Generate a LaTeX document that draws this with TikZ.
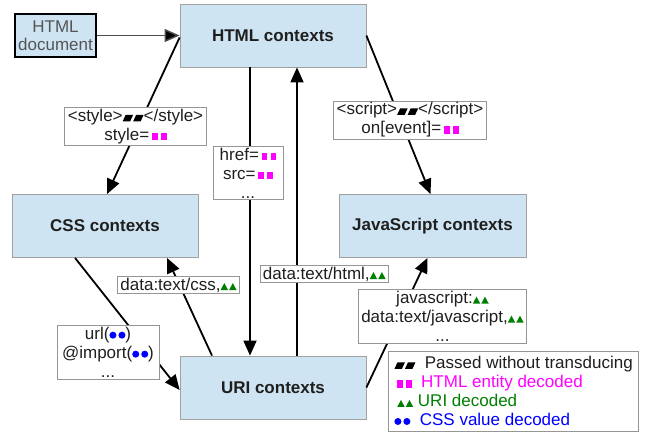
\documentclass[tikz,border=0pt]{standalone}
\usepackage{fontspec}
\setmainfont{Liberation Sans}
\usetikzlibrary{arrows.meta,calc}
\definecolor{ctxfill}{RGB}{207,228,242}
\definecolor{ctxborder}{RGB}{160,160,160}
\definecolor{lblborder}{RGB}{150,150,150}
\definecolor{ugreen}{RGB}{0,128,0}
\definecolor{txtgray}{RGB}{85,85,85}
\definecolor{cssblue}{RGB}{0,0,255}
\definecolor{entmag}{RGB}{255,0,255}
\newcommand\symP{\tikz[baseline=0pt]{\fill[black] (0pt,0pt) -- (7.5pt,0pt) -- (10.5pt,6.5pt) -- (3pt,6.5pt) -- cycle; \fill[black] (10.5pt,0pt) -- (18pt,0pt) -- (21pt,6.5pt) -- (13.5pt,6.5pt) -- cycle;}}
\newcommand\symH{\tikz[baseline=0pt]{\fill[entmag] (0pt,0pt) rectangle (5.5pt,7.5pt); \fill[entmag] (9pt,0pt) rectangle (14.5pt,7.5pt);}}
\newcommand\symU{\tikz[baseline=0pt]{\fill[ugreen] (0pt,0pt) -- (7.5pt,0pt) -- (3.75pt,7pt) -- cycle; \fill[ugreen] (8.5pt,0pt) -- (16pt,0pt) -- (12.25pt,7pt) -- cycle;}}
\newcommand\symC{\tikz[baseline=0pt]{\fill[cssblue] (3.5pt,4.5pt) circle (3.5pt); \fill[cssblue] (12.5pt,4.5pt) circle (3.5pt);}}
\begin{document}
\begin{tikzpicture}[x=1pt,y=-1pt,
  font=\fontsize{17}{19}\selectfont,
  ctx/.style={draw=ctxborder, line width=0.8pt, fill=ctxfill, minimum width=186pt, minimum height=63pt, font=\fontsize{17}{19}\selectfont\bfseries, text=black!88, inner sep=0pt},
  lbl/.style={draw=lblborder, fill=white, line width=0.8pt, align=center, inner xsep=3pt, inner ysep=1.5pt, text=black!88},
  edge/.style={line width=1.8pt, -{Triangle[length=15pt,width=13pt]}}]
\useasboundingbox (0,0) rectangle (646,432);

% context boxes
\node[ctx] (html) at (273,35.5) {HTML contexts};
\node[ctx] (css) at (105,226) {CSS contexts};
\node[ctx, minimum width=187pt] (js) at (432.5,226) {JavaScript contexts};
\node[ctx] (uri) at (273,387.5) {URI contexts};
\node[draw=black, line width=1.8pt, fill=ctxfill, minimum width=81pt, minimum height=43pt, align=center, inner sep=0pt, text=txtgray] (doc) at (55.5,35.5) {HTML\\[-1pt]document};

% connectors
\draw[line width=1.5pt, draw=black!70, -{Triangle[length=15pt,width=13pt,fill=black]}] (doc.east) -- (html.west);
\draw[edge] ([yshift=-2pt]html.west) -- ([xshift=2pt]css.north);
\draw[edge] (html.east) -- ([xshift=-2pt]js.north);
\draw[edge] ([xshift=-23pt]html.south) -- ([xshift=-23pt]uri.north);
\draw[edge] ([xshift=24pt]uri.north) -- ([xshift=24pt]html.south);
\draw[edge] ([xshift=-61pt]uri.north) -- ([xshift=62pt]css.south);
\draw[edge] ([xshift=-30pt]css.south) -- ([yshift=-2.5pt]uri.west);
\draw[edge] (uri.east) -- ([xshift=-5pt]js.south);

% labels
\node[lbl] (lstyle) at (135.5,126.5) {<style>\symP</style>\\style=\,\symH};
\node[lbl] (lscript) at (410,120) {<script>\symP</script>\\on[event]=\,\symH};
\node[lbl, minimum width=70pt] (lhref) at (248,173) {href=\,\symH\\src=\,\symH\\...};
\node[lbl, anchor=west] (lhtml) at (259.5,274) {data:text/html,\symU};
\node[lbl] (lcss) at (178.5,285) {data:text/css,\symU};
\node[lbl, minimum width=102pt] (lurl) at (108,352.5) {url(\symC)\\@import(\symC)\\...};
\node[lbl] (ljs) at (442.5,316.5) {javascript:\symU\\data:text/javascript,\symU\\...};

% legend
\node[draw=lblborder, fill=white, line width=0.8pt, anchor=north west, minimum width=250pt, minimum height=80pt, align=left, inner xsep=6pt, inner ysep=1pt, text=black!88] (legend) at (388,351)
  {\symP\ \ Passed without transducing\\
   \textcolor{entmag}{\,\symH\ \ HTML entity decoded}\\
   \textcolor{ugreen}{\,\symU\ URI decoded}\\
   \textcolor{cssblue}{\symC\ \ CSS value decoded}};
\end{tikzpicture}
\end{document}
